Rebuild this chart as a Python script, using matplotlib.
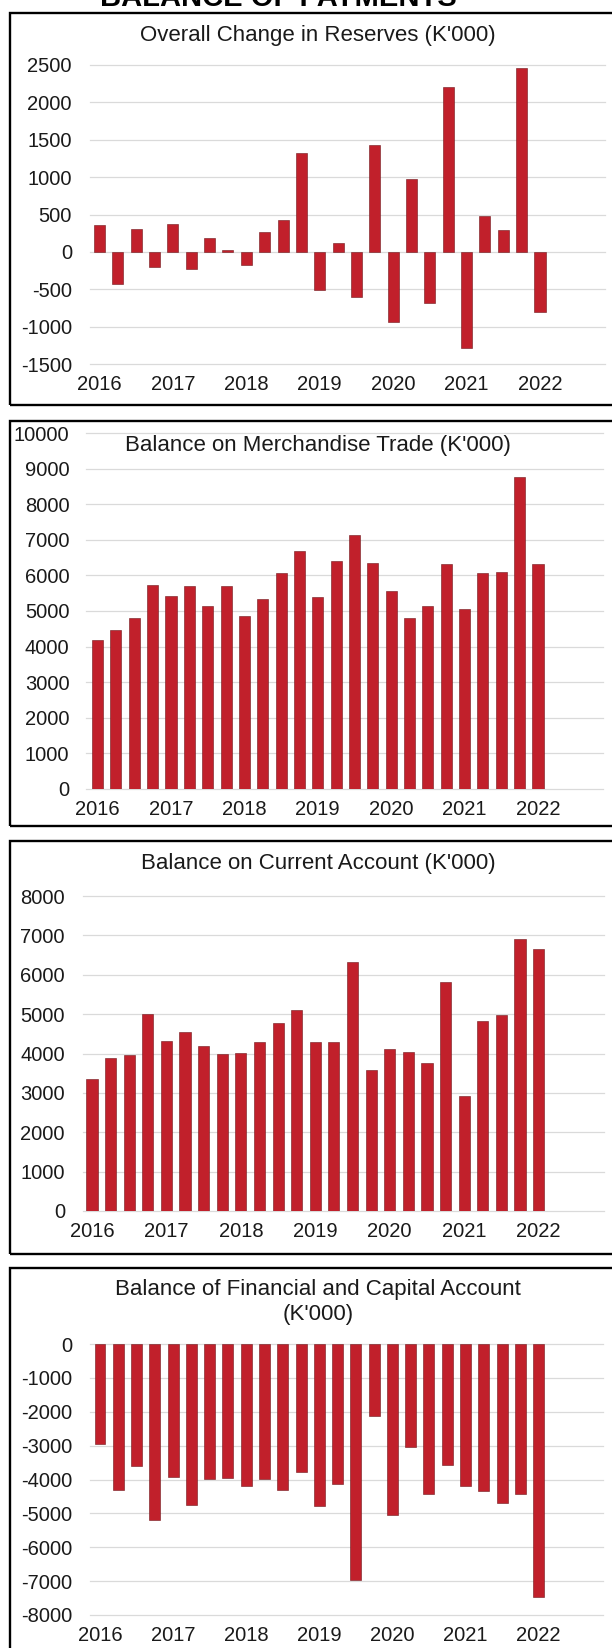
import numpy as np
import matplotlib
matplotlib.use("Agg")
import matplotlib.pyplot as plt
from matplotlib.patches import Rectangle

plt.rcParams['font.family'] = ['Liberation Sans', 'DejaVu Sans']
plt.rcParams['axes.unicode_minus'] = False

W, H = 612, 1648

# quarterly data, 2016Q1 .. 2022Q1, K'000
years = ['2016', '2017', '2018', '2019', '2020', '2021', '2022']
reserves = [360, -430, 310, -200, 375, -225, 180, 25, -175, 270, 425, 1325,
            -510, 115, -610, 1430, -935, 980, -690, 2210, -1280, 475, 290, 2465, -805]
merchandise = [4190, 4470, 4800, 5720, 5410, 5690, 5150, 5690, 4850, 5350, 6070, 6690,
               5380, 6410, 7130, 6350, 5550, 4800, 5150, 6330, 5070, 6070, 6100, 8760, 6330]
current = [3340, 3880, 3970, 5010, 4310, 4540, 4190, 3990, 4020, 4280, 4770, 5110,
           4280, 4280, 6330, 3580, 4120, 4040, 3750, 5810, 2920, 4820, 4990, 6920, 6650]
financial = [-2950, -4310, -3600, -5210, -3930, -4750, -3980, -3960, -4200, -3980, -4310, -3780,
             -4770, -4140, -6980, -2130, -5060, -3040, -4440, -3580, -4200, -4350, -4690, -4440, -7460]

BAR = '#C1202B'
EDGE = '#70161B'
GRID = '#DADADA'


def fx(px):
    return px / W


def fy(py):
    return 1 - py / H


def panel(fig, frame, grid_x, bar_x, grid_y, ylim, step, values, title, title_y, ypad):
    top, bottom = frame
    fig.patches.append(Rectangle((fx(10), fy(bottom)), 1.1, fy(top) - fy(bottom),
                                 transform=fig.transFigure, fill=False, ec='black', lw=1.7))
    gx0, gx1 = grid_x
    b0, b1 = bar_x
    s = (b1 - b0) / (len(values) - 1)
    ax = fig.add_axes([fx(gx0), fy(grid_y[1]), fx(gx1) - fx(gx0), fy(grid_y[0]) - fy(grid_y[1])])
    x = np.arange(len(values))
    ax.bar(x, values, width=0.6, color=BAR, edgecolor=EDGE, linewidth=0.4, zorder=3)
    ax.set_xlim(-(b0 - gx0) / s, (gx1 - b0) / s)
    ax.set_ylim(*ylim)
    ax.set_yticks(np.arange(ylim[0], ylim[1] + 1, step))
    ax.set_xticks(x[::4])
    ax.set_xticklabels(years)
    ax.grid(axis='y', color=GRID, lw=0.9, zorder=0)
    for gl in ax.get_ygridlines():
        gl.set_clip_on(False)
    for sp in ax.spines.values():
        sp.set_visible(False)
    ax.tick_params(axis='both', length=0, labelsize=14.5, colors='#1a1a1a')
    ax.tick_params(axis='y', pad=ypad)
    ax.tick_params(axis='x', pad=8)
    ax.patch.set_alpha(0)
    fig.text(fx(318), fy(title_y), title, ha='center', va='center', fontsize=16,
             color='#1a1a1a', linespacing=1.2)
    return ax


fig = plt.figure(figsize=(W / 100, H / 100), dpi=100)

fig.text(fx(278), fy(6), 'BALANCE OF PAYMENTS', ha='center', va='baseline',
         fontsize=21, fontweight='bold')

panel(fig, (13, 405), (90, 605), (99.5, 540), (65, 364), (-1500, 2500), 500,
      reserves, "Overall Change in Reserves (K'000)", 35, 13)
panel(fig, (421, 826), (86, 603), (97.6, 538), (433, 789), (0, 10000), 1000,
      merchandise, "Balance on Merchandise Trade (K'000)", 445, 12)
panel(fig, (841, 1254), (83, 604), (92, 538.6), (896, 1211), (0, 8000), 1000,
      current, "Balance on Current Account (K'000)", 864, 13)
panel(fig, (1268, 1700), (90, 603), (100, 538.6), (1344, 1615), (-8000, 0), 1000,
      financial, "Balance of Financial and Capital Account\n(K'000)", 1302, 13)

fig.savefig('out.png', dpi=100)
